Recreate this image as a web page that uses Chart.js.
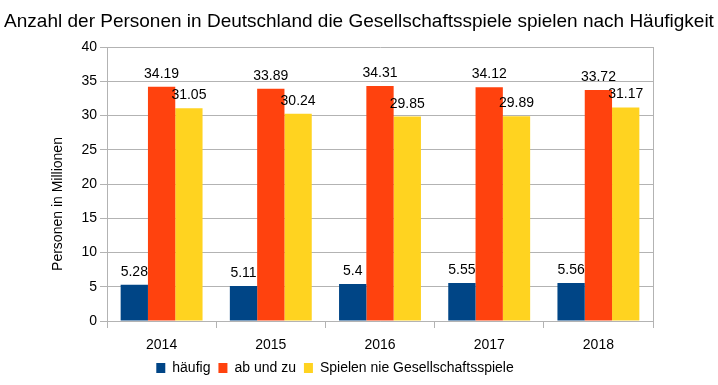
<!DOCTYPE html>
<html>
<head>
<meta charset="utf-8">
<script src="https://cdn.jsdelivr.net/npm/chart.js@4"></script>
<style>
html,body{margin:0;padding:0;background:#fff;}
#wrap{width:718px;height:385px;}
</style>
</head>
<body>
<div id="wrap"><canvas id="c" width="718" height="385"></canvas></div>
<script>
const categories = ['2014', '2015', '2016', '2017', '2018'];
const haeufig = [5.28, 5.11, 5.4, 5.55, 5.56];
const abUndZu = [34.19, 33.89, 34.31, 34.12, 33.72];
const nie = [31.05, 30.24, 29.85, 29.89, 31.17];
const seriesNames = ['häufig', 'ab und zu', 'Spielen nie Gesellschaftsspiele'];
const titleText = 'Anzahl der Personen in Deutschland die Gesellschaftsspiele spielen nach Häufigkeit';
const yTitle = 'Personen in Millionen';

const FONT = "'Liberation Sans', Arial, sans-serif";
const GRID = '#b3b3b3';

const labelPlugin = {
  id: 'valueLabels',
  afterDatasetsDraw(chart) {
    const ctx = chart.ctx;
    ctx.save();
    ctx.font = '14px ' + FONT;
    ctx.fillStyle = '#000';
    ctx.textAlign = 'center';
    ctx.textBaseline = 'alphabetic';
    chart.data.datasets.forEach((ds, i) => {
      const meta = chart.getDatasetMeta(i);
      meta.data.forEach((bar, j) => {
        ctx.fillText(String(ds.data[j]), bar.x, bar.y - 9);
      });
    });
    ctx.restore();
  }
};

const framePlugin = {
  id: 'frameAndTitles',
  beforeDatasetsDraw(chart) {
    const a = chart.chartArea, ctx = chart.ctx;
    ctx.save();
    ctx.strokeStyle = GRID;
    ctx.lineWidth = 1;
    ctx.beginPath();
    ctx.moveTo(Math.round(a.right) + 0.5, a.top);
    ctx.lineTo(Math.round(a.right) + 0.5, a.bottom);
    ctx.stroke();
    ctx.restore();
  },
  afterDraw(chart) {
    const a = chart.chartArea, ctx = chart.ctx;
    ctx.save();
    ctx.fillStyle = '#000';
    ctx.textAlign = 'center';
    ctx.textBaseline = 'middle';
    ctx.font = '19px ' + FONT;
    ctx.fillText(titleText, chart.width / 2, 22, chart.width - 8);
    ctx.font = '14px ' + FONT;
    ctx.translate(58, (a.top + a.bottom) / 2 + 20);
    ctx.rotate(-Math.PI / 2);
    ctx.fillText(yTitle, 0, 0);
    ctx.restore();
  }
};

new Chart(document.getElementById('c'), {
  type: 'bar',
  data: {
    labels: categories,
    datasets: [
      { label: seriesNames[0], data: haeufig, backgroundColor: '#004586' },
      { label: seriesNames[1], data: abUndZu, backgroundColor: '#ff420e' },
      { label: seriesNames[2], data: nie, backgroundColor: '#ffd320' }
    ]
  },
  options: {
    responsive: false,
    animation: false,
    devicePixelRatio: 1,
    layout: { padding: { left: 0, right: 48, top: 47, bottom: 0 } },
    datasets: { bar: { categoryPercentage: 0.75, barPercentage: 1.0 } },
    plugins: {
      title: { display: false },
      legend: {
        position: 'bottom',
        labels: {
          color: '#000',
          font: { family: FONT, size: 14 },
          boxWidth: 9,
          boxHeight: 10,
          padding: 8
        }
      },
      tooltip: { enabled: false }
    },
    scales: {
      x: {
        grid: { offset: true, drawOnChartArea: false, color: GRID, tickLength: 7 },
        border: { color: GRID },
        ticks: { color: '#000', font: { family: FONT, size: 14 }, padding: 9 },
        afterFit(scale) { scale.height = 32; }
      },
      y: {
        min: 0, max: 40,
        ticks: { stepSize: 5, color: '#000', font: { family: FONT, size: 14 }, padding: 3 },
        grid: { color: GRID, tickLength: 7 },
        border: { color: GRID },
        afterFit(scale) { scale.width = 107; }
      },
      y2: {
        position: 'right',
        display: true,
        grid: { display: false, drawTicks: false },
        border: { display: false },
        ticks: { display: false },
        afterFit(scale) { scale.width = 17; }
      }
    }
  },
  plugins: [labelPlugin, framePlugin]
});
</script>
</body>
</html>
